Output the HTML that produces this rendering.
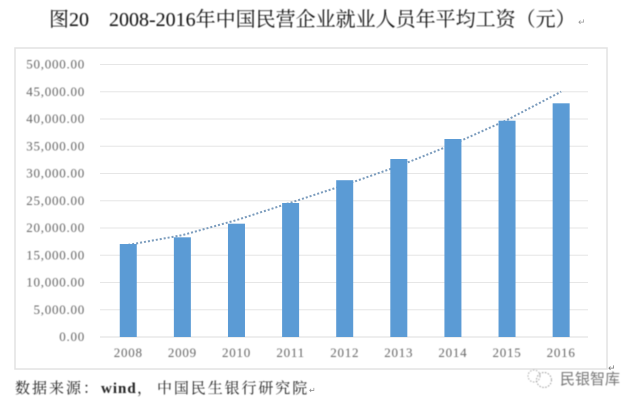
<!DOCTYPE html>
<html lang="zh">
<head>
<meta charset="utf-8">
<title>2008-2016年中国民营企业就业人员年平均工资（元）</title>
<style>
  html,body{margin:0;padding:0;background:#fff;}
  body{width:640px;height:406px;overflow:hidden;position:relative;}
  svg{position:absolute;left:0;top:0;display:block;}
  .ser{font-family:"Liberation Serif","Noto Serif CJK SC",serif;}
</style>
</head>
<body>
<svg id="chart" width="640" height="406" viewBox="0 0 640 406" xmlns="http://www.w3.org/2000/svg">
  <defs>
    <filter id="soft" x="-5%" y="-5%" width="110%" height="110%"><feGaussianBlur stdDeviation="0.4"/></filter>
    <filter id="softer" x="-5%" y="-20%" width="110%" height="140%"><feGaussianBlur stdDeviation="0.6"/></filter>
  </defs>
  <text class="ser" x="49" y="26" font-size="20" fill="#111" filter="url(#soft)">图20</text>
  <text class="ser" x="109" y="26" font-size="20" fill="#111" filter="url(#soft)">2008-2016年中国民营企业就业人员年平均工资（元）</text>
  <text x="578" y="25" font-size="9" fill="#999" font-family="'DejaVu Sans',sans-serif">↵</text>
  <rect x="15" y="48" width="592" height="321" fill="#fff" stroke="#e2e2e2" stroke-width="1.5"/>
  <g id="grid"></g>
  <g id="trend"></g>
  <g id="bars"></g>
  <g id="ylabels" filter="url(#soft)"></g>
  <g id="xlabels" filter="url(#soft)"></g>
  <g filter="url(#soft)" fill="#222" class="ser">
    <text x="15" y="393" font-size="15" letter-spacing="2">数据来源：</text>
    <text x="101" y="393" font-size="15" font-weight="bold" letter-spacing="1">wind</text>
    <text x="137" y="393" font-size="15">，</text>
    <text x="157" y="393" font-size="15" letter-spacing="1.9">中国民生银行研究院</text>
  </g>
  <text x="309" y="393" font-size="8" fill="#888" font-family="'DejaVu Sans',sans-serif">↵</text>
  <text x="608" y="371" font-size="9" fill="#777" font-family="'DejaVu Sans',sans-serif">↵</text>
  <g filter="url(#softer)">
    <circle cx="534" cy="376" r="6" fill="none" stroke="#aaa" stroke-width="1" stroke-dasharray="1.5 1.5"/>
    <circle cx="544" cy="380" r="7.5" fill="none" stroke="#999" stroke-width="1" stroke-dasharray="1.5 1.5"/>
    <text x="560" y="384" font-size="15" fill="#777" font-family="'Noto Sans CJK SC',sans-serif">民银智库</text>
  </g>
</svg>
<script>
const categories = ['2008','2009','2010','2011','2012','2013','2014','2015','2016'];
const wages = [17060,18290,20790,24590,28770,32660,36330,39690,42880];
const trendValues = [16900,18690,21450,24650,27890,31380,35360,39820,45010];
const yTicks = [0,5000,10000,15000,20000,25000,30000,35000,40000,45000,50000];
const yTickLabels = ['0.00','5,000.00','10,000.00','15,000.00','20,000.00','25,000.00','30,000.00','35,000.00','40,000.00','45,000.00','50,000.00'];

const NS = 'http://www.w3.org/2000/svg';
const plot = {left:100, right:588, top:64.5, bottom:337, max:50000};
function yScale(v){ return plot.bottom - (v / plot.max) * (plot.bottom - plot.top); }
function xScale(i){ return 101.2 + (i + 0.5) * (plot.right - 101) / categories.length; }
function make(tag, attrs, parent){
  const el = document.createElementNS(NS, tag);
  for (const k in attrs) el.setAttribute(k, attrs[k]);
  parent.appendChild(el);
  return el;
}
const gridG = document.getElementById('grid');
const trendG = document.getElementById('trend');
const barsG = document.getElementById('bars');
const yG = document.getElementById('ylabels');
const xG = document.getElementById('xlabels');

yTicks.forEach(function(t, i){
  const line = make('line', {x1:plot.left, x2:plot.right, y1:yScale(t), y2:yScale(t), stroke: t === 0 ? '#dcdcdc' : '#e6e6e6', 'stroke-width':1}, gridG);
  
  
  const label = make('text', {x:85, y:yScale(t) + 4, 'text-anchor':'end', 'font-size':13, 'letter-spacing':0.75, fill:'#666', 'font-family':'"Liberation Serif",serif'}, yG);
  label.textContent = yTickLabels[i];
  
  
});

const trendLine = make('polyline', {points: trendValues.map(function(v, i){ return xScale(i) + ',' + yScale(v); }).join(' '), fill:'none', stroke:'#7b9cbd', 'stroke-width':2, 'stroke-dasharray':'2 2'}, trendG);



categories.forEach(function(c, i){
  const bar = make('rect', {x:xScale(i) - 8.5, y:yScale(wages[i]), width:17, height:plot.bottom - yScale(wages[i]), fill:'#5b9bd5'}, barsG);
  
  
  const label = make('text', {x:xScale(i), y:357, 'text-anchor':'middle', 'font-size':13, 'letter-spacing':0.75, fill:'#666', 'font-family':'"Liberation Serif",serif'}, xG);
  label.textContent = c;
  
  
});
</script>
</body>
</html>
